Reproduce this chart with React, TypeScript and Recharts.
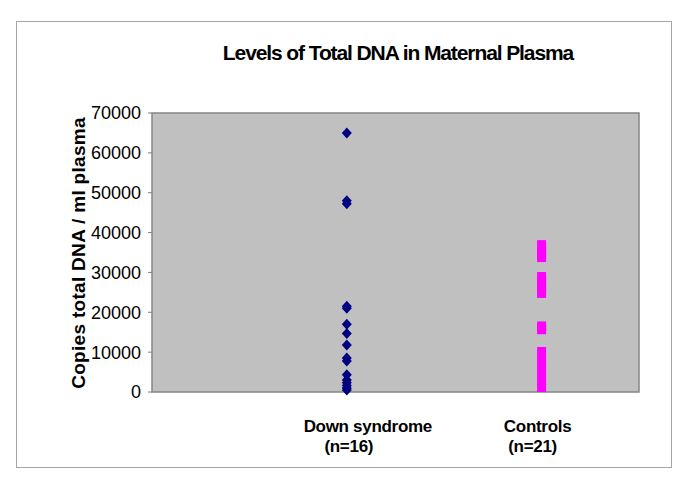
import React from 'react';
import {
    ScatterChart,
    Scatter,
    XAxis,
    YAxis,
    ReferenceArea,
    Customized,
} from 'recharts';

// category positions on the x scale and their labels
const groupX = [1, 2];
const groupNames = ['Down syndrome', 'Controls'];
const groupCounts = ['(n=16)', '(n=21)'];

// copies / ml
const downSyndrome = [65000, 48000, 47200, 21500, 21000, 17000, 14700, 11800, 8500, 7800, 4300, 3000, 2300, 1600, 1000, 500];
const controls = [
    37100, 36200, 35300, 34400, 33600,
    29100, 28200, 27300, 26400, 25500, 24600,
    16700, 16100, 15500,
    10300, 8800, 7200, 5700, 4100, 2600, 1000,
];

const yTicks = [0, 10000, 20000, 30000, 40000, 50000, 60000, 70000];

const downData = downSyndrome.map((v) => ({x: groupX[0], y: v}));
const controlData = controls.map((v) => ({x: groupX[1], y: v}));

const FONT = '"Liberation Sans", Arial, sans-serif';

const Diamond = (props: any) => {
    const {cx, cy} = props;
    return (
        <polygon
            points={`${cx},${cy - 5.5} ${cx + 5},${cy} ${cx},${cy + 5.5} ${cx - 5},${cy}`}
            fill='#000080'
        />
    );
};

const Dash = (props: any) => {
    const {cx, cy} = props;
    return <rect x={cx - 4.5} y={cy - 4} width={9} height={8} fill='#ff00ff' />;
};

// label offsets relative to the tick position
const nameDx = [21, -4];
const countDx = [2, -9];

const GroupTick = (props: any) => {
    const {x, y, index} = props;
    return (
        <g fontFamily={FONT} fontWeight='bold' fontSize={17} fill='#000'>
            <text x={x + nameDx[index]} y={y + 32} textAnchor='middle' letterSpacing={-0.3}>
                {groupNames[index]}
            </text>
            <text x={x + countDx[index]} y={y + 52} textAnchor='middle' letterSpacing={-0.3}>
                {groupCounts[index]}
            </text>
        </g>
    );
};

const Titles = () => (
    <g fontFamily={FONT} fontWeight='bold' fill='#000'>
        <text x={398} y={60} textAnchor='middle' fontSize={21} letterSpacing={-1.1}>
            Levels of Total DNA in Maternal Plasma
        </text>
        <text
            x={85}
            y={253}
            textAnchor='middle'
            fontSize={19}
            letterSpacing={0.3}
            transform='rotate(-90 85 253)'
        >
            Copies total DNA / ml plasma
        </text>
    </g>
);

export default function App() {
    return (
        <div style={{position: 'absolute', left: 0, top: 0, width: 685, height: 483, background: '#fff'}}>
            <div
                style={{
                    position: 'absolute',
                    left: 16,
                    top: 21,
                    width: 654,
                    height: 445,
                    border: '1px solid #a6a6a6',
                }}
            />
            <ScatterChart
                width={685}
                height={483}
                margin={{top: 113, right: 46, bottom: 31, left: 92}}
                style={{position: 'absolute', left: 0, top: 0}}
            >
                <XAxis
                    type='number'
                    dataKey='x'
                    domain={[0, 2.5]}
                    ticks={groupX}
                    tick={<GroupTick />}
                    tickLine={false}
                    axisLine={false}
                    height={60}
                    allowDataOverflow
                />
                <YAxis
                    type='number'
                    dataKey='y'
                    domain={[0, 70000]}
                    ticks={yTicks}
                    interval={0}
                    width={60}
                    axisLine={false}
                    tickSize={4}
                    tickMargin={7}
                    tickLine={{stroke: '#808080'}}
                    tick={{fill: '#000', fontSize: 18, fontFamily: FONT}}
                />
                <ReferenceArea
                    x1={0}
                    x2={2.5}
                    y1={0}
                    y2={70000}
                    fill='#c0c0c0'
                    fillOpacity={1}
                    stroke='#858585'
                    strokeWidth={1.5}
                    ifOverflow='visible'
                />
                <Scatter data={downData} shape={<Diamond />} isAnimationActive={false} />
                <Scatter data={controlData} shape={<Dash />} isAnimationActive={false} />
                <Customized component={Titles} />
            </ScatterChart>
        </div>
    );
}
